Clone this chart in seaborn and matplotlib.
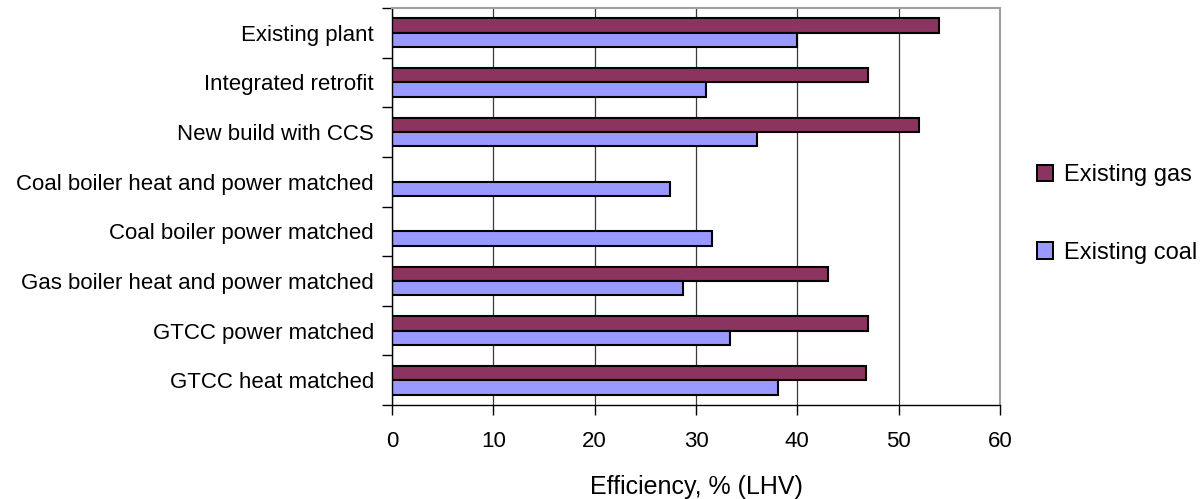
import numpy as np
import pandas as pd
import matplotlib
matplotlib.use("Agg")
import matplotlib.pyplot as plt
import seaborn as sns
from matplotlib.ticker import FixedLocator

# Efficiency of each capture configuration, % (LHV)
configurations = [
    "Existing plant",
    "Integrated retrofit",
    "New build with CCS",
    "Coal boiler heat and power matched",
    "Coal boiler power matched",
    "Gas boiler heat and power matched",
    "GTCC power matched",
    "GTCC heat matched",
]
existing_gas = [54.0, 47.0, 52.0, np.nan, np.nan, 43.0, 47.0, 46.8]
existing_coal = [40.0, 31.0, 36.0, 27.4, 31.6, 28.7, 33.4, 38.1]
series_names = ["Existing gas", "Existing coal"]
series_colors = ["#8C3460", "#9999FF"]
x_ticks = [0, 10, 20, 30, 40, 50, 60]

df = pd.DataFrame({
    "Configuration": configurations * 2,
    "Series": [series_names[0]] * len(configurations) + [series_names[1]] * len(configurations),
    "Efficiency": existing_gas + existing_coal,
})

sns.set_theme(style="white")
plt.rcParams["font.family"] = ["Liberation Sans", "DejaVu Sans"]
plt.rcParams["text.color"] = "black"
plt.rcParams["xtick.color"] = "black"
plt.rcParams["ytick.color"] = "black"
plt.rcParams["axes.labelcolor"] = "black"

fig = plt.figure(figsize=(12.04, 4.99), dpi=100)
ax = fig.add_axes([392 / 1204, 1 - 405 / 499, (1000 - 392) / 1204, (405 - 8) / 499])

sns.barplot(
    data=df, y="Configuration", x="Efficiency", hue="Series",
    order=configurations, hue_order=series_names, palette=series_colors,
    orient="h", width=0.58, gap=0, edgecolor="black", linewidth=1.5,
    saturation=1, errorbar=None, ax=ax,
)

ax.set_xlim(0, 60)
ax.set_ylim(len(configurations) - 0.5, -0.5)
ax.set_xticks(x_ticks)
ax.set_xticklabels([str(t) for t in x_ticks])
ax.set_xlabel("Efficiency, % (LHV)", fontsize=18, labelpad=17)
ax.set_ylabel("")

ax.xaxis.grid(True, color="#3a3a3a", linewidth=0.9)
ax.set_axisbelow(True)

ax.tick_params(axis="x", which="major", direction="out", length=7, width=1,
               labelsize=16, pad=11.5, bottom=True)
ax.tick_params(axis="y", which="major", length=0, labelsize=16, pad=13, left=True)
ax.yaxis.set_minor_locator(FixedLocator(np.arange(-0.5, len(configurations), 1.0)))
ax.tick_params(axis="y", which="minor", direction="out", length=7, width=1,
               left=True)

for side in ("left", "bottom"):
    ax.spines[side].set_color("black")
    ax.spines[side].set_linewidth(1.0)
for side in ("top", "right"):
    ax.spines[side].set_color("#a0a0a0")
    ax.spines[side].set_linewidth(1.5)

leg = ax.legend(
    loc="upper left", bbox_to_anchor=(1.045, 0.63), frameon=False,
    fontsize=17, handlelength=0.7, handleheight=0.7, handletextpad=0.45,
    labelspacing=2.35, borderaxespad=0,
)
for h in leg.legend_handles:
    h.set_edgecolor("black")
    h.set_linewidth(1.4)

fig.savefig("out.png", dpi=100)
